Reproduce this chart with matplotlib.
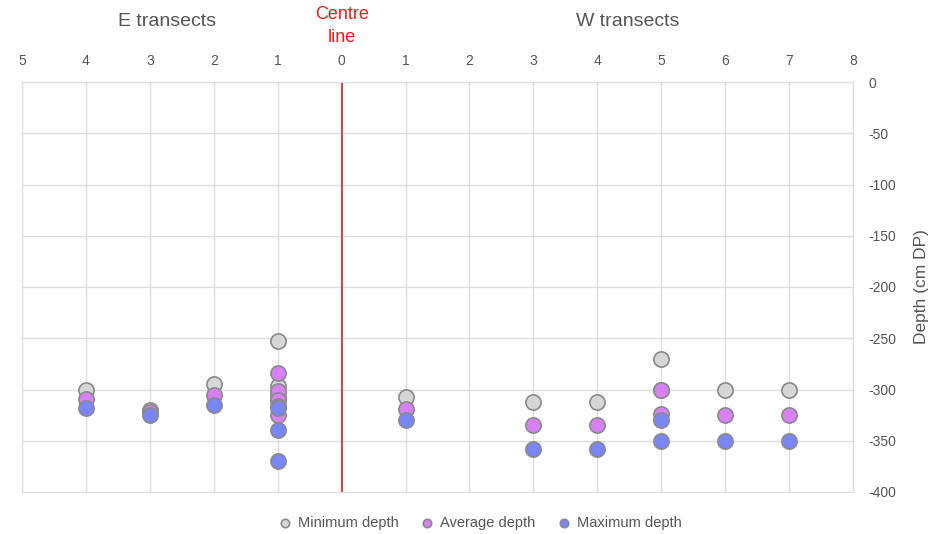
import numpy as np
import matplotlib
matplotlib.use('Agg')
import matplotlib.pyplot as plt

plt.rcParams['font.family'] = ['Liberation Sans', 'DejaVu Sans']
plt.rcParams['axes.unicode_minus'] = False

# transect positions: E side negative, W side positive
transect = [-4, -3, -2, -1, -1, -1, -1, 1, 3, 4, 5, 5, 6, 7]
minDepth = [-300, -320, -295, -253, -297, -305, -310, -307, -312, -312, -270, -300, -300, -300]
avgDepth = [-309, -322, -305, -284, -301, -310, -325, -319, -335, -335, -300, -324, -325, -325]
maxDepth = [-318, -325, -315, -316, -318, -340, -370, -330, -358, -358, -330, -350, -350, -350]

xTicks = list(range(-5, 9))
xTickLabels = [str(abs(v)) for v in xTicks]
yTicks = list(range(-400, 1, 50))

textCol = '#555555'
gridCol = '#dddddd'

fig = plt.figure(figsize=(9.45, 5.34), dpi=100)
ax = fig.add_axes([22/945, 1 - 492/534, (853 - 22)/945, (492 - 82)/534])

ax.set_xlim(-5, 8)
ax.set_ylim(-400, 0)
ax.set_xticks(xTicks)
ax.set_xticklabels(xTickLabels)
ax.set_yticks(yTicks)
ax.xaxis.tick_top()
ax.yaxis.tick_right()
ax.yaxis.set_label_position('right')
ax.tick_params(length=0, labelsize=10, labelcolor=textCol)
ax.tick_params(axis='x', pad=10)
ax.tick_params(axis='y', pad=11)
ax.grid(True, color=gridCol, linewidth=1)
ax.set_axisbelow(True)
for s in ax.spines.values():
    s.set_color(gridCol)
ax.set_ylabel('Depth (cm DP)', fontsize=12.5, color=textCol, labelpad=13)

ax.axvline(0, color='#ee1c1c', linewidth=1.2, zorder=1.5)

mk = dict(s=120, edgecolors='#8a8a8a', linewidths=1.2, zorder=3, clip_on=False)
ax.scatter(transect, minDepth, color='#d6d6d6', label='Minimum depth', **mk)
ax.scatter(transect, avgDepth, color='#d880f6', label='Average depth', **mk)
ax.scatter(transect, maxDepth, color='#7a85f7', label='Maximum depth', **mk)

fig.text(167/945, 1 - 22/534, 'E transects', ha='center', va='center', fontsize=14, color=textCol)
fig.text(628/945, 1 - 22/534, 'W transects', ha='center', va='center', fontsize=14, color=textCol)
fig.text(342/945, 1 - 26/534, 'Centre\nline', ha='center', va='center', fontsize=13,
         color='#ee1c1c', linespacing=1.45)

leg = fig.legend(loc='center', bbox_to_anchor=(478/945, 1 - 523/534), ncol=3, frameon=False,
                 fontsize=10.5, markerscale=0.55, handletextpad=0.15, columnspacing=1.2,
                 handlelength=1.5)
for t in leg.get_texts():
    t.set_color(textCol)

fig.savefig('out.png', dpi=100)
